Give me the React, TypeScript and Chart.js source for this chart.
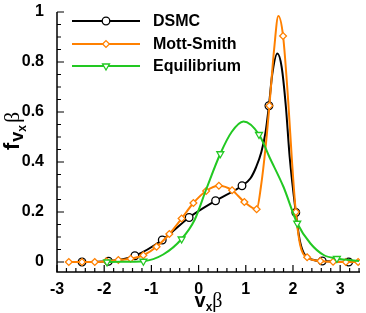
import React, { useEffect, useRef } from 'react';
import { Chart, registerables } from 'chart.js';

Chart.register(...registerables);

const seriesNames = ['DSMC', 'Mott-Smith', 'Equilibrium'];
const xTickValues = [-3, -2, -1, 0, 1, 2, 3];
const yTickValues = [0, 0.2, 0.4, 0.6, 0.8, 1];

// DSMC curve and its circle markers
const dsmcX = [-2.75, -2.47, -1.91, -1.35, -0.77, -0.2, 0.36, 0.92, 1.1, 1.22, 1.33, 1.42, 1.49, 1.56, 1.67, 1.76, 1.85, 1.93, 2.06, 2.14, 2.23, 2.44, 2.62, 3.18, 3.42];
const dsmcY = [0, 0, 0.003, 0.025, 0.088, 0.178, 0.245, 0.305, 0.335, 0.38, 0.44, 0.52, 0.625, 0.75, 0.834, 0.78, 0.62, 0.42, 0.198, 0.09, 0.035, 0.008, 0.004, 0, 0];
const dsmcMarkX = [-2.47, -1.91, -1.35, -0.77, -0.2, 0.36, 0.92, 1.49, 2.06, 2.62, 3.18];
const dsmcMarkY = [0, 0.003, 0.025, 0.088, 0.178, 0.245, 0.305, 0.625, 0.198, 0.004, 0];

// Mott-Smith curve and its diamond markers
const mottX = [-2.75, -2.47, -2.2, -1.95, -1.7, -1.44, -1.17, -0.89, -0.62, -0.36, -0.11, 0.16, 0.43, 0.71, 0.97, 1.23, 1.32, 1.42, 1.5, 1.6, 1.69, 1.79, 1.9, 1.98, 2.06, 2.15, 2.3, 2.58, 2.85, 3.12, 3.38];
const mottY = [0, 0, 0, 0.003, 0.008, 0.013, 0.027, 0.061, 0.112, 0.174, 0.236, 0.284, 0.305, 0.287, 0.24, 0.211, 0.3, 0.46, 0.625, 0.85, 0.984, 0.904, 0.64, 0.4, 0.2, 0.07, 0.019, 0.004, 0.001, 0, 0];
const mottMarkX = [-2.75, -2.47, -2.2, -1.95, -1.7, -1.44, -1.17, -0.89, -0.62, -0.36, -0.11, 0.16, 0.43, 0.71, 0.97, 1.23, 1.5, 1.79, 2.06, 2.3, 2.58, 2.85, 3.12, 3.38];
const mottMarkY = [0, 0, 0, 0.003, 0.008, 0.013, 0.027, 0.061, 0.112, 0.174, 0.236, 0.284, 0.305, 0.287, 0.24, 0.211, 0.625, 0.904, 0.2, 0.019, 0.004, 0.001, 0, 0];

// Equilibrium curve and its triangle markers
const equiX = [-2.0, -1.94, -1.5, -1.17, -0.75, -0.36, -0.08, 0.16, 0.46, 0.7, 0.95, 1.28, 1.5, 1.8, 2.09, 2.37, 2.65, 2.93, 3.4];
const equiY = [0, 0, 0.001, 0.003, 0.03, 0.092, 0.17, 0.29, 0.433, 0.52, 0.562, 0.51, 0.42, 0.3, 0.155, 0.074, 0.028, 0.014, 0.004];
const equiMarkX = [-1.94, -1.17, -0.36, 0.46, 1.28, 2.09, 2.93];
const equiMarkY = [0, 0.003, 0.092, 0.433, 0.51, 0.155, 0.014];

const COLORS = ['#000000', '#ff8000', '#22c822'];
const MARKERS = ['circle', 'diamond', 'triDown'];

function zip(xs: number[], ys: number[]) {
  return xs.map((x, i) => ({ x, y: ys[i] }));
}

function drawMarker(ctx: CanvasRenderingContext2D, kind: string, x: number, y: number, color: string) {
  ctx.save();
  ctx.beginPath();
  if (kind === 'circle') {
    ctx.arc(x, y, 3.8, 0, Math.PI * 2);
  } else if (kind === 'diamond') {
    const r = 3.4;
    ctx.moveTo(x, y - r);
    ctx.lineTo(x + r, y);
    ctx.lineTo(x, y + r);
    ctx.lineTo(x - r, y);
    ctx.closePath();
  } else {
    const r = 4;
    ctx.moveTo(x - r * 0.866, y - r * 0.5);
    ctx.lineTo(x + r * 0.866, y - r * 0.5);
    ctx.lineTo(x, y + r);
    ctx.closePath();
  }
  ctx.fillStyle = '#ffffff';
  ctx.fill();
  ctx.lineWidth = 1.3;
  ctx.strokeStyle = color;
  ctx.stroke();
  ctx.restore();
}

type Part = { t: string; font: string; dy: number; gap?: number };

function drawRich(ctx: CanvasRenderingContext2D, parts: Part[], cx: number, cy: number, rotate: boolean) {
  ctx.save();
  ctx.translate(cx, cy);
  if (rotate) ctx.rotate(-Math.PI / 2);
  let total = 0;
  parts.forEach((p) => {
    ctx.font = p.font;
    total += ctx.measureText(p.t).width + (p.gap || 0);
  });
  let x = -total / 2;
  ctx.textAlign = 'left';
  ctx.textBaseline = 'alphabetic';
  ctx.fillStyle = '#000';
  parts.forEach((p) => {
    ctx.font = p.font;
    ctx.fillText(p.t, x, p.dy);
    x += ctx.measureText(p.t).width + (p.gap || 0);
  });
  ctx.restore();
}

const SANS = '"Liberation Sans", Arial, sans-serif';
const SERIF = '"Liberation Serif", serif';

const decorPlugin = {
  id: 'decor',
  afterDraw(chart: any) {
    const ctx: CanvasRenderingContext2D = chart.ctx;
    const { left, right, top, bottom } = chart.chartArea;
    const xs = chart.scales.x;
    const ys = chart.scales.y;
    ctx.save();
    ctx.strokeStyle = '#000';
    ctx.lineWidth = 1.5;
    ctx.beginPath();
    ctx.moveTo(left, top);
    ctx.lineTo(left, bottom);
    ctx.lineTo(right, bottom);
    ctx.stroke();
    ctx.lineWidth = 1.2;
    ctx.beginPath();
    for (let i = 0; i <= 32; i++) {
      const v = -3 + i * 0.2;
      if (v > xs.max + 1e-6) break;
      const px = xs.getPixelForValue(v);
      const major = i % 5 === 0;
      ctx.moveTo(px, bottom);
      ctx.lineTo(px, bottom - (major ? 7 : 4));
    }
    for (let i = 0; i <= 20; i++) {
      const v = i * 0.05;
      const py = ys.getPixelForValue(v);
      const major = i % 4 === 0;
      ctx.moveTo(left, py);
      ctx.lineTo(left + (major ? 7 : 4), py);
    }
    ctx.stroke();

    const rows = [21, 44, 66];
    seriesNames.forEach((name, i) => {
      const y = rows[i];
      ctx.strokeStyle = COLORS[i];
      ctx.lineWidth = 2;
      ctx.beginPath();
      ctx.moveTo(72, y);
      ctx.lineTo(140, y);
      ctx.stroke();
      drawMarker(ctx, MARKERS[i], 106, y, COLORS[i]);
      ctx.fillStyle = '#000';
      ctx.font = 'bold 16px ' + SANS;
      ctx.textAlign = 'left';
      ctx.textBaseline = 'middle';
      ctx.fillText(name, 153, y + 1);
    });

    drawRich(
      ctx,
      [
        { t: 'v', font: 'bold 20px ' + SANS, dy: 0 },
        { t: 'x', font: 'bold 12px ' + SANS, dy: 4 },
        { t: 'β', font: '20px ' + SERIF, dy: 0 },
      ],
      (left + right) / 2,
      307,
      false
    );
    drawRich(
      ctx,
      [
        { t: 'f', font: 'bold 22px ' + SANS, dy: 0, gap: 1 },
        { t: 'v', font: 'bold 18px ' + SANS, dy: 4 },
        { t: 'x', font: 'bold 12px ' + SANS, dy: 7, gap: 2 },
        { t: 'β', font: '22px ' + SERIF, dy: 0 },
      ],
      19,
      131,
      true
    );
    ctx.restore();
  },
};

export default function App() {
  const canvasRef = useRef<HTMLCanvasElement | null>(null);

  useEffect(() => {
    document.body.style.margin = '0';
    const canvas = canvasRef.current;
    if (!canvas) return;

    const lineDs = (xs: number[], ys: number[], color: string) => ({
      data: zip(xs, ys),
      showLine: true,
      borderColor: color,
      borderWidth: 2,
      pointRadius: 0,
      pointHoverRadius: 0,
      cubicInterpolationMode: 'monotone' as const,
      fill: false,
    });
    const markDs = (xs: number[], ys: number[], color: string, style: string, radius: number, rotation: number) => ({
      data: zip(xs, ys),
      showLine: false,
      pointStyle: style,
      pointRadius: radius,
      pointRotation: rotation,
      pointBackgroundColor: '#ffffff',
      pointBorderColor: color,
      pointBorderWidth: 1.3,
      pointHoverRadius: radius,
    });

    const tickFont = { family: SANS, size: 16, weight: 'bold' as const };

    const chart = new Chart(canvas, {
      type: 'scatter',
      data: {
        datasets: [
          { label: seriesNames[2] + ' markers', ...markDs(equiMarkX, equiMarkY, COLORS[2], 'triangle', 4, 180) },
          { label: seriesNames[2], ...lineDs(equiX, equiY, COLORS[2]) },
          { label: seriesNames[1] + ' markers', ...markDs(mottMarkX, mottMarkY, COLORS[1], 'rectRot', 3.4, 0) },
          { label: seriesNames[1], ...lineDs(mottX, mottY, COLORS[1]) },
          { label: seriesNames[0] + ' markers', ...markDs(dsmcMarkX, dsmcMarkY, COLORS[0], 'circle', 3.8, 0) },
          { label: seriesNames[0], ...lineDs(dsmcX, dsmcY, COLORS[0]) },
        ] as any,
      },
      options: {
        responsive: false,
        animation: false,
        devicePixelRatio: 1,
        layout: { padding: { top: 12, right: 6, left: 0, bottom: 0 } },
        plugins: { legend: { display: false }, tooltip: { enabled: false } },
        events: [],
        scales: {
          x: {
            type: 'linear',
            min: -3,
            max: 3.42,
            grid: { display: false },
            border: { display: false },
            ticks: {
              color: '#000',
              font: tickFont,
              padding: 0,
              maxRotation: 0,
              autoSkip: false,
              callback: (v: any) => String(v),
            },
            afterBuildTicks: (s: any) => {
              s.ticks = xTickValues.map((v) => ({ value: v }));
            },
            afterFit: (s: any) => {
              s.height = 41;
            },
          },
          y: {
            type: 'linear',
            min: -0.04,
            max: 1,
            grid: { display: false },
            border: { display: false },
            ticks: {
              color: '#000',
              font: tickFont,
              padding: 5,
              autoSkip: false,
              callback: (v: any) => String(v),
            },
            afterBuildTicks: (s: any) => {
              s.ticks = yTickValues.map((v) => ({ value: v }));
            },
            afterFit: (s: any) => {
              s.width = 57;
              s.paddingTop = 0;
              s.paddingBottom = 0;
            },
          },
        },
      } as any,
      plugins: [decorPlugin],
    });

    return () => chart.destroy();
  }, []);

  return (
    <div style={{ width: 366, height: 313 }}>
      <canvas ref={canvasRef} width={366} height={313} style={{ display: 'block' }} />
    </div>
  );
}
